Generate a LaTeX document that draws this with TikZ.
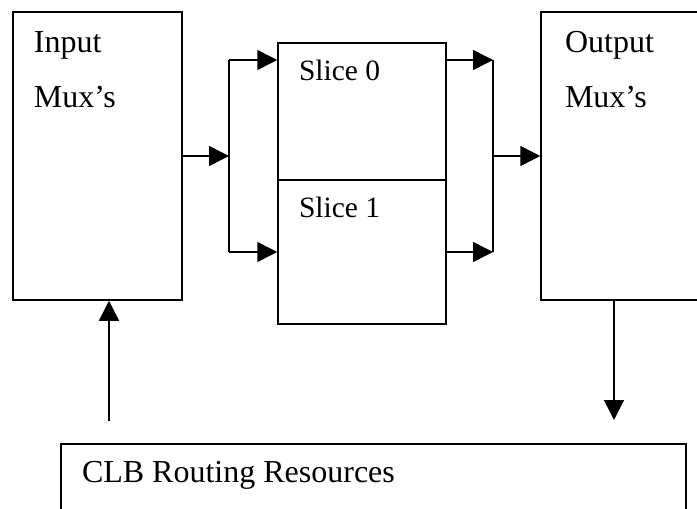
\documentclass[tikz,border=0pt]{standalone}
\usepackage{fontspec}
\setmainfont{Liberation Serif}
\usetikzlibrary{arrows.meta,calc}
\tikzset{pin/.style={-{Triangle[length=20pt,width=20pt]}},
  blk/.style={draw, line width=1.5pt, rectangle, inner sep=0pt},
  lbl/.style={anchor=base west, inner sep=0pt, font=\fontsize{32}{38}\selectfont},
  slbl/.style={lbl, font=\fontsize{29.5}{35}\selectfont}}

\begin{document}
\begin{tikzpicture}[x=1pt, y=-1pt, line width=1.5pt]
  \useasboundingbox (0,0) rectangle (697,509);
  \clip (0,0) rectangle (697,509);
  % blocks
  \node[blk, minimum width=169pt, minimum height=288pt] (input) at (97.5,156) {};
  \node[blk, minimum width=168pt, minimum height=137pt] (slice0) at (362,111.5) {};
  \node[blk, minimum width=168pt, minimum height=144pt] (slice1) at (362,252) {};
  \node[blk, minimum width=169pt, minimum height=288pt] (output) at (625.5,156) {};
  \node[blk, minimum width=625pt, minimum height=110pt] (clb) at (373.5,499) {};
  % texts
  \node[lbl] (intxt) at ($(input.north west)+(21,41)$) {Input};
  \node[lbl] (inmux) at ($(input.north west)+(21,96)$) {Mux’s};
  \node[slbl] (s0txt) at ($(slice0.north west)+(21,38)$) {Slice 0};
  \node[slbl] (s1txt) at ($(slice1.north west)+(21,38)$) {Slice 1};
  \node[lbl] (outtxt) at ($(output.north west)+(24,41)$) {Output};
  \node[lbl] (outmux) at ($(output.north west)+(24,96)$) {Mux’s};
  \node[lbl] (clbtxt) at ($(clb.north west)+(21,39)$) {CLB Routing Resources};
  % fan out to the slices
  \coordinate (split) at (229,156);
  \coordinate (splita) at (229,60);
  \coordinate (splitb) at (229,252);
  \draw[pin] (input.east) -- (split);
  \draw (splita) -- (splitb);
  \draw[pin] (splita) -- (splita -| slice0.west);
  \draw[pin] (splitb) -- (slice1.west);
  % merge into the output mux
  \coordinate (joina) at (493,60);
  \coordinate (joinb) at (493,252);
  \coordinate (join) at (493,156);
  \draw[pin] (splita -| slice0.east) -- (joina);
  \draw[pin] (slice1.east) -- (joinb);
  \draw (joina) -- (joinb);
  \draw[pin] (join) -- (output.west);
  % routing resources
  \coordinate (up) at (109,421);
  \coordinate (down) at (614,420);
  \draw[pin] (up) -- (up |- input.south);
  \draw[pin] (down |- output.south) -- (down);
\end{tikzpicture}
\end{document}
